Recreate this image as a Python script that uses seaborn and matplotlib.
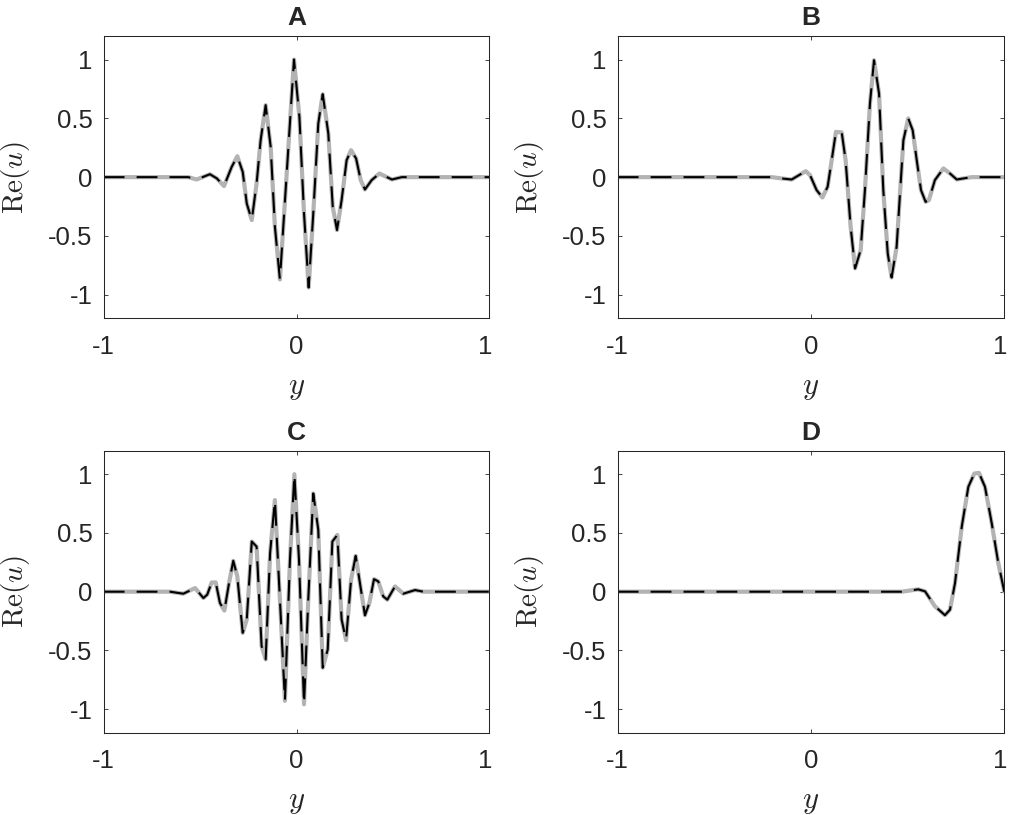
import matplotlib
matplotlib.use("Agg")
import matplotlib.pyplot as plt
import matplotlib.transforms as mtransforms
import seaborn as sns

# panel A
A_Y = [-1.0, -0.561, -0.518, -0.449, -0.413, -0.376, -0.336, -0.307, -0.279, -0.258,
       -0.232, -0.207, -0.186, -0.160, -0.134, -0.112, -0.086, -0.013, 0.015,
       0.039, 0.063, 0.087, 0.113, 0.136, 0.165, 0.188, 0.210, 0.234, 0.260,
       0.283, 0.309, 0.333, 0.355, 0.390, 0.430, 0.459, 0.495, 0.546, 1.0]
A_RE = [0, 0, -0.02, 0.025, -0.011, -0.076, 0.088, 0.178, 0.045, -0.224,
        -0.365, -0.054, 0.314, 0.612, 0.258, -0.422, -0.870, 1.0, 0.513,
        -0.309, -0.938, -0.309, 0.456, 0.705, 0.371, -0.252, -0.450, -0.195, 0.144,
        0.229, 0.159, -0.025, -0.105, -0.025, 0.031, 0.008, -0.02, 0, 0]

# panel B
B_Y = [-1.0, -0.203, -0.152, -0.100, -0.062, -0.027, -0.005, 0.029, 0.059, 0.086,
       0.107, 0.129, 0.159, 0.179, 0.205, 0.228, 0.257, 0.279, 0.305, 0.326,
       0.352, 0.374, 0.397, 0.417, 0.443, 0.478, 0.503, 0.526, 0.547, 0.569,
       0.593, 0.610, 0.641, 0.685, 0.719, 0.754, 0.788, 0.831, 1.0]
B_RE = [0, 0, -0.011, -0.02, 0.017, 0.051, 0.017, -0.11, -0.173, -0.082,
        0.144, 0.385, 0.380, 0.144, -0.422, -0.776, -0.620, -0.110, 0.626, 0.994,
        0.711, -0.110, -0.649, -0.853, -0.592, 0.314, 0.499, 0.399, 0.144, -0.11,
        -0.210, -0.195, -0.025, 0.074, 0.031, -0.02, -0.011, 0, 0]

# panel C
C_Y = [-1.0, -0.656, -0.587, -0.526, -0.483, -0.463, -0.440, -0.419, -0.397, -0.374,
       -0.350, -0.328, -0.307, -0.279, -0.258, -0.232, -0.207, -0.181, -0.160, -0.137,
       -0.112, -0.086, -0.060, -0.034, -0.011, 0.013, 0.039, 0.061, 0.087, 0.113,
       0.136, 0.162, 0.186, 0.212, 0.234, 0.257, 0.283, 0.307, 0.329, 0.355,
       0.378, 0.402, 0.424, 0.450, 0.471, 0.511, 0.554, 0.615, 0.658, 1.0]
C_RE = [0, 0, -0.017, 0.031, -0.054, -0.025, 0.079, 0.079, -0.096, -0.161,
        0.073, 0.263, 0.130, -0.350, -0.237, 0.427, 0.384, -0.463, -0.576, 0.328,
        0.780, -0.068, -0.929, 0.271, 1.0, 0.271, -0.958, -0.068, 0.836, 0.525,
        -0.647, -0.492, 0.427, 0.483, -0.237, -0.412, 0.102, 0.305, 0.073, -0.201,
        -0.096, 0.107, 0.088, -0.040, -0.068, 0.045, -0.017, 0.014, 0, 0]

# panel D
D_Y = [-1.0, 0.469, 0.555, 0.590, 0.641, 0.693, 0.719, 0.745, 0.780, 0.814,
       0.845, 0.869, 0.900, 0.935, 0.969, 1.0]
D_RE = [0, 0, 0.020, 0.003, -0.124, -0.200, -0.153, 0.073, 0.554, 0.893,
        1.006, 1.011, 0.893, 0.582, 0.243, 0.0]

PANELS = ["A", "B", "C", "D"]
X_TICKS = [-1, 0, 1]
X_TICKLABELS = ["-1", "0", "1"]
Y_TICKS = [-1, -0.5, 0, 0.5, 1]
Y_TICKLABELS = ["-1", "-0.5", "0", "0.5", "1"]

sns.set_theme(style="white")
plt.rcParams["font.family"] = ["Liberation Sans", "DejaVu Sans"]
plt.rcParams["mathtext.fontset"] = "cm"

AX_COLOR = "#262626"
GRAY = "#b3b3b3"

fig = plt.figure(figsize=(10.09, 8.15), dpi=100)
W, H = 1009.0, 815.0

# axes boxes in pixels: left, top, right, bottom
boxes = [(103.7, 36.0, 489.3, 318.3),
         (617.7, 36.0, 1004.3, 318.3),
         (103.7, 450.7, 489.3, 732.7),
         (617.7, 450.7, 1004.3, 732.7)]
data = [(A_Y, A_RE), (B_Y, B_RE), (C_Y, C_RE), (D_Y, D_RE)]

# nudge for the right-most x tick label so it stays inside the figure
shift_left = mtransforms.ScaledTranslation(-4 / 100, 0, fig.dpi_scale_trans)

for name, (l, t, r, b), (yy, re) in zip(PANELS, boxes, data):
    ax = fig.add_axes([l / W, 1 - b / H, (r - l) / W, (b - t) / H])

    # thick gray solid line with the black dashed copy on top
    sns.lineplot(x=yy, y=re, ax=ax, color=GRAY, linewidth=3.0, sort=False)
    sns.lineplot(x=yy, y=re, ax=ax, color="black", linewidth=1.5, sort=False,
                 linestyle=(0, (10, 5.8)))

    ax.set_xlim(-1, 1)
    ax.set_ylim(-1.2, 1.2)
    ax.set_xticks(X_TICKS)
    ax.set_xticklabels(X_TICKLABELS)
    ax.set_yticks(Y_TICKS)
    ax.set_yticklabels(Y_TICKLABELS)
    ax.tick_params(direction="in", length=3, width=0.6, color=AX_COLOR,
                   labelcolor=AX_COLOR, labelsize=18.5, top=True, right=True,
                   bottom=True, left=True)
    ax.tick_params(axis="x", pad=12)
    ax.tick_params(axis="y", pad=8)
    for sp in ax.spines.values():
        sp.set_color(AX_COLOR)
        sp.set_linewidth(0.75)

    last = ax.get_xticklabels()[-1]
    last.set_transform(last.get_transform() + shift_left)

    ax.set_xlabel(r"$y$", fontsize=22, color=AX_COLOR)
    ax.set_ylabel(r"$\mathrm{Re}(u)$", fontsize=21, color=AX_COLOR)
    ax.xaxis.set_label_coords(0.5, -0.19)
    ax.yaxis.set_label_coords(-0.185, 0.5)
    ax.set_title(name, fontsize=19, fontweight="bold", pad=8)

fig.savefig("out.png", dpi=100)
plt.close("all")
